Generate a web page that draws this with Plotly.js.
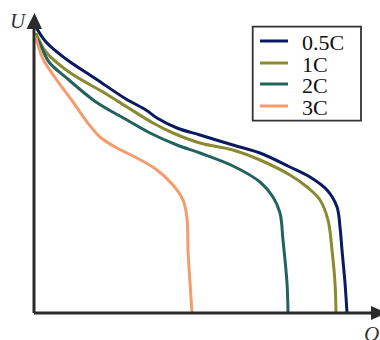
<!DOCTYPE html>
<html><head><meta charset="utf-8">
<script src="https://cdn.plot.ly/plotly-3.0.1.min.js"></script>
<style>html,body{margin:0;padding:0;background:#fff}#chart{width:380px;height:340px}</style>
</head><body><div id="chart"></div>
<script>
// Curves (Q, U in arbitrary units)
const names = ['0.5C', '1C', '2C', '3C'];
const colors = ['#0a1a60', '#8b8a30', '#22625f', '#f49c6c'];

const q05 = [2, 12, 32, 62, 92, 112, 123, 143, 166, 199, 226, 256, 276, 293, 303, 306, 308, 311, 313];
const u05 = [286, 271, 254, 234, 214, 203, 195, 185, 178, 168, 160, 146, 136, 123, 106, 86, 63, 30, 0];

const q1 = [2, 12, 35, 69, 93, 119, 139, 166, 199, 226, 256, 273, 286, 294, 298, 301, 302];
const u1 = [280, 261, 241, 221, 206, 190, 180, 170, 163, 153, 138, 126, 113, 93, 63, 30, 0];

const q2 = [2, 5, 15, 35, 62, 93, 116, 143, 166, 199, 226, 239, 246, 249, 253, 254];
const u2 = [275, 271, 251, 233, 211, 193, 180, 168, 160, 147, 131, 116, 100, 73, 30, 0];

const q3 = [2, 4, 9, 22, 39, 53, 66, 83, 103, 123, 139, 149, 153, 154, 156, 158];
const u3 = [275, 268, 254, 234, 211, 191, 176, 165, 155, 143, 128, 113, 95, 63, 30, 0];

const Q = [q05, q1, q2, q3];
const U = [u05, u1, u2, u3];

const traces = names.map((n, i) => ({
  x: Q[i], y: U[i], name: n, type: 'scatter', mode: 'lines',
  line: {color: colors[i], width: 3, shape: 'spline', smoothing: 1},
  hoverinfo: 'skip', showlegend: false
}));

const ax = '#2b2b2b';
const serif = '"Liberation Serif", "Times New Roman", serif';

const shapes = [
  {type: 'line', x0: 0, x1: 0, y0: 0, y1: 286, line: {color: ax, width: 3}},
  {type: 'line', x0: 0, x1: 338, y0: 0, y1: 0, line: {color: ax, width: 3}},
  {type: 'path', path: 'M -7.5 284 L 0.5 300 L 8 284 Z', fillcolor: ax, line: {width: 0}},
  {type: 'path', path: 'M 337 7 L 353 0 L 337 -7 Z', fillcolor: ax, line: {width: 0}},
  // legend box
  {type: 'rect', x0: 218.7, x1: 327, y0: 192.3, y1: 286.3, fillcolor: '#fff',
   line: {color: '#333', width: 1.8}}
];
const annotations = [
  {x: -15.5, y: 292, text: '<i>U</i>', showarrow: false, xanchor: 'center', yanchor: 'middle',
   font: {family: serif, size: 21, color: '#333'}},
  {x: 337, y: -19, text: '<i>Q</i>', showarrow: false, xanchor: 'center', yanchor: 'middle',
   height: 20, valign: 'top',
   font: {family: serif, size: 21, color: '#333'}}
];
// legend entries
const rowU = [272, 250, 229, 207];
names.forEach((n, i) => {
  shapes.push({type: 'line', x0: 226, x1: 254, y0: rowU[i], y1: rowU[i],
               line: {color: colors[i], width: 3}});
  annotations.push({x: 265.5, y: rowU[i] - 0.5, text: n, showarrow: false,
    xanchor: 'left', yanchor: 'middle', height: 20, valign: 'middle',
    font: {family: serif, size: 22, color: '#111'}});
});

const layout = {
  width: 380, height: 340,
  margin: {l: 0, r: 0, t: 0, b: 0},
  paper_bgcolor: '#fff', plot_bgcolor: '#fff',
  xaxis: {range: [-34, 346], visible: false, fixedrange: true},
  yaxis: {range: [-27, 313], visible: false, fixedrange: true},
  showlegend: false,
  shapes: shapes,
  annotations: annotations
};

Plotly.newPlot('chart', traces, layout, {staticPlot: true, displayModeBar: false});
</script></body></html>
